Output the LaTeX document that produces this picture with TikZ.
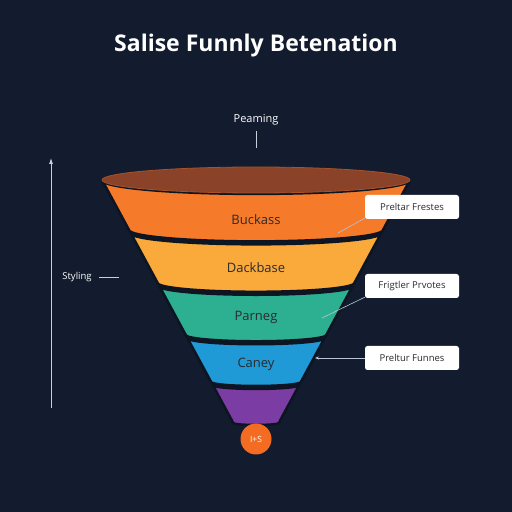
\documentclass[tikz,border=0pt]{standalone}
\usepackage{fontspec}
\setmainfont{Open Sans}
\usetikzlibrary{calc,positioning,arrows.meta}
\definecolor{bgnavy}{HTML}{121C2E}
\definecolor{bgdark}{HTML}{0E1522}
\definecolor{rimbrown}{HTML}{8A4328}
\definecolor{bandorange}{HTML}{F57B2A}
\definecolor{bandyellow}{HTML}{FAAA3B}
\definecolor{bandteal}{HTML}{2DAF91}
\definecolor{bandblue}{HTML}{1F9AD6}
\definecolor{bandpurple}{HTML}{7B3DA3}
\definecolor{dotorange}{HTML}{F36C22}
\definecolor{labeldark}{HTML}{2A2A2E}
\definecolor{pointergray}{HTML}{B9C4D4}

\begin{document}
\begin{tikzpicture}[x=1pt,y=1pt,
    band/.style={draw=bgdark,line width=2.6pt,line join=round},
    lbl/.style={text=labeldark,font=\fontsize{13}{15}\selectfont},
    callout/.style={fill=white,rounded corners=2.5pt,minimum width=94pt,minimum height=24pt,
      inner sep=0pt,text=labeldark,font=\fontsize{9.5}{11}\selectfont},
    pointer/.style={draw=pointergray,line width=0.6pt},
    axisline/.style={draw=pointergray!80!white,line width=0.8pt}]
    \useasboundingbox (0,0) rectangle (512,512);
    \fill[bgnavy] (0,0) rectangle (512,512);

    \node[text=white,font=\bfseries\fontsize{23}{27}\selectfont] (title) at (256,466) {Salise Funnly Betenation};

    % bands, top/bottom given from the top of the page
    \foreach \t/\b/\c in {180/230/bandorange,233/283/bandyellow,286/335/bandteal,338/382/bandblue,385/423/bandpurple}{
      \pgfmathsetmacro{\rt}{154-(\t-180)*0.54}
      \pgfmathsetmacro{\rb}{154-(\b-180)*0.54}
      \filldraw[fill=\c,band] (256-\rt,512-\t) arc[start angle=180,end angle=360,x radius=\rt,y radius=0.09*\rt]
        -- (256+\rb,512-\b) arc[start angle=0,end angle=-180,x radius=\rb,y radius=0.09*\rb] -- cycle;
    }
    \filldraw[draw=rimbrown!75!bandorange,line width=0.8pt,fill=rimbrown]
      (256,332) ellipse[x radius=154,y radius=13];
    \coordinate (rim) at (256,346);

    \node[lbl] (buck) at (256,292) {Buckass};
    \node[lbl] (dack) at (256,244) {Dackbase};
    \node[lbl] (parn) at (256,195) {Parneg};
    \node[lbl] (caney) at (256,148) {Caney};

    \node[circle,fill=dotorange,minimum size=31pt,inner sep=0pt,text=white,font=\fontsize{8.5}{10}\selectfont] (tip) at (256,73) {I+S};

    \node[callout] (note1) at (412,305) {Preltar Frestes};
    \node[callout] (note2) at (412,226) {Frigtler Prvotes};
    \node[callout] (note3) at (412,154) {Preltur Funnes};
    \coordinate (p1) at (338,279);
    \coordinate (p2) at (322,194);
    \coordinate (p3) at (315,154);
    \draw[pointer] ($(note1.south west)+(0,1)$) -- (p1);
    \draw[pointer] ($(note2.south west)+(0,1)$) -- (p2);
    \draw[pointer,-{Stealth[length=4pt,width=3pt]}] (note3.west) -- (p3);

    \node[text=white,font=\fontsize{11}{13}\selectfont] (peam) at (256,392) {Peaming};
    \draw[axisline] ($(peam.south)+(0,-2)$) -- ($(rim)+(0,18)$);

    \coordinate (ax0) at (51,104);
    \coordinate (ax1) at (51,354);
    \draw[axisline,-{Latex[length=6pt,width=4pt]}] (ax0) -- (ax1);
    \node[text=white,font=\fontsize{9.5}{11}\selectfont] (styl) at (77,235) {Styling};
    \coordinate (stylend) at (119,235);
    \draw[axisline] ($(styl.east)+(4,0)$) -- (stylend);
\end{tikzpicture}
\end{document}
